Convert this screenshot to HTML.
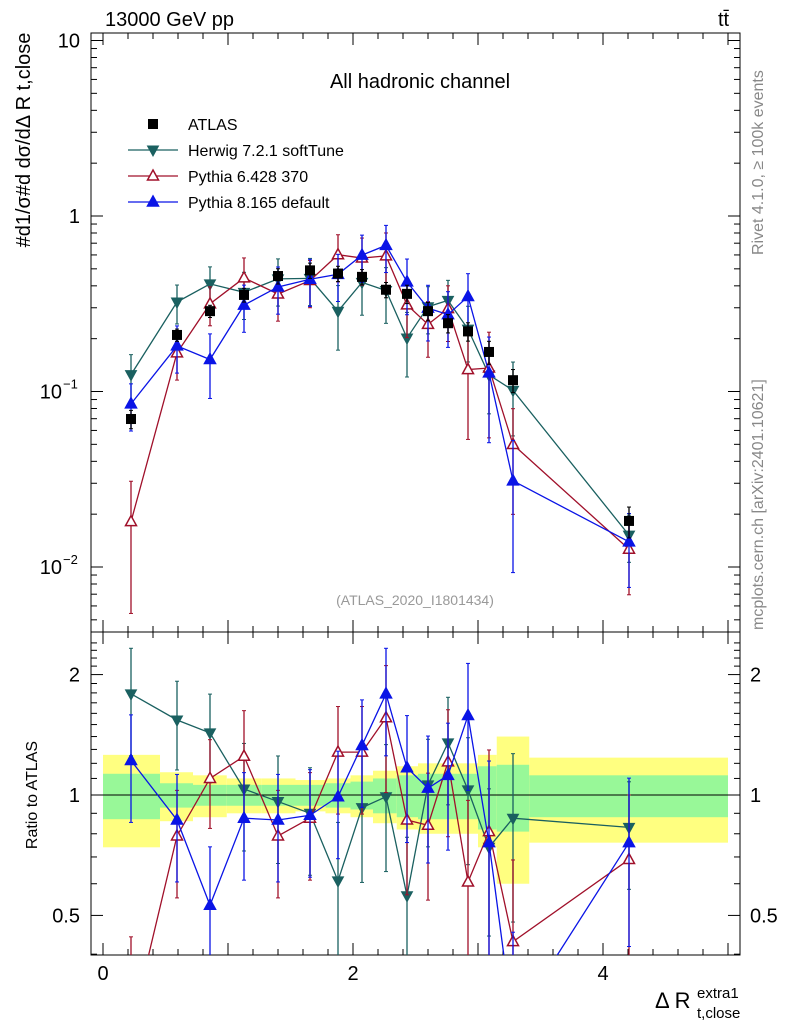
<!DOCTYPE html>
<html><head><meta charset="utf-8"><style>
html,body{margin:0;background:#fff;overflow:hidden;width:786px;height:1024px}
svg{display:block;font-family:"Liberation Sans",sans-serif}
</style></head><body>
<svg id="c" width="786" height="1024" viewBox="0 0 786 1024"></svg>
<script>
const xs=[0.224,0.592,0.856,1.128,1.4,1.656,1.88,2.072,2.264,2.432,2.6,2.76,2.92,3.088,3.28,4.208];
const atlas=[0.0697,0.21,0.287,0.355,0.455,0.49,0.47,0.45,0.38,0.36,0.287,0.245,0.22,0.168,0.116,0.0183];
const atlasErr=[0.12,0.08,0.08,0.09,0.10,0.10,0.1,0.1,0.1,0.12,0.12,0.12,0.12,0.15,0.15,0.2];
const herwigRatio=[1.79,1.54,1.43,1.035,0.963,0.90,0.61,0.93,0.99,0.56,1.06,1.35,1.03,0.74,0.875,0.83];
const herwigErr=[0.3,0.25,0.25,0.3,0.3,0.3,0.4,0.35,0.35,0.4,0.3,0.3,0.35,0.4,0.45,0.3];
const py6Ratio=[0.26,0.79,1.10,1.25,0.79,0.875,1.28,1.28,1.56,0.866,0.84,1.21,0.606,0.81,0.43,0.69];
const py6Err=[0.7,0.3,0.25,0.3,0.3,0.3,0.3,0.3,0.35,0.35,0.35,0.35,0.6,0.6,0.6,0.45];
const py8Ratio=[1.22,0.866,0.53,0.875,0.866,0.89,0.99,1.33,1.79,1.17,1.04,1.12,1.58,0.76,0.267,0.76];
const py8Err=[0.3,0.3,0.4,0.3,0.3,0.3,0.3,0.3,0.3,0.35,0.35,0.35,0.35,0.6,0.7,0.45];
const binEdges=[0,0.456,0.72,0.99,1.27,1.54,1.78,1.98,2.16,2.35,2.52,3.0,3.15,3.41,5.0];
const bandTotal=[0.26,0.14,0.12,0.1,0.1,0.09,0.1,0.12,0.15,0.18,0.2,0.26,0.4,0.24];
const bandStat=[0.13,0.07,0.06,0.06,0.06,0.06,0.07,0.08,0.1,0.12,0.13,0.18,0.19,0.12];
const xTicks=[0,2,4];
const ratioTicks=[0.5,1,2];

const S=document.getElementById('c');const NS='http://www.w3.org/2000/svg';
function el(t,a,p){const e=document.createElementNS(NS,t);for(const k in a)e.setAttribute(k,a[k]);(p||S).appendChild(e);return e;}
const L=91,R=740,T=33,B=632,RB=955;
const X=v=>103+125*v;
const Y=v=>216-175.5*Math.log10(v);
const YR=v=>795-400*Math.log10(v);
const clipM=el('clipPath',{id:'cm'});el('rect',{x:L,y:T,width:R-L,height:B-T},clipM);
const clipR=el('clipPath',{id:'cr'});el('rect',{x:L,y:B,width:R-L,height:RB-B},clipR);
const gb=el('g',{'clip-path':'url(#cr)'});

for(let i=0;i<bandTotal.length;i++){
 const x0=X(binEdges[i]),x1=X(binEdges[i+1]);
 let r=el('rect',{x:x0,y:YR(1+bandTotal[i]),width:x1-x0,height:YR(1-bandTotal[i])-YR(1+bandTotal[i]),fill:'#ffff80'},gb);
 
 r=el('rect',{x:x0,y:YR(1+bandStat[i]),width:x1-x0,height:YR(1-bandStat[i])-YR(1+bandStat[i]),fill:'#98f898'},gb);
 
}
el('line',{x1:L,x2:R,y1:YR(1),y2:YR(1),stroke:'#000'});
el('rect',{x:L,y:T,width:R-L,height:B-T,fill:'none',stroke:'#000'});
el('rect',{x:L,y:B,width:R-L,height:RB-B,fill:'none',stroke:'#000'});
for(let v=0;v<=5.01;v+=0.2){const x=X(v);const maj=Math.abs(v-Math.round(v))<1e-6;const len=maj?12:6;
 for(const [y0,y1] of [[B,B-len],[T,T+len],[RB,RB-len],[B,B+len]]) el('line',{x1:x,x2:x,y1:y0,y2:y1,stroke:'#000'});}
xTicks.forEach(v=>{const t=el('text',{x:X(v),y:980,'font-size':20,'text-anchor':'middle'});t.textContent=v;
 });
for(let d=-3;d<=1;d++)for(let m=1;m<10;m++){const v=m*Math.pow(10,d);const y=Y(v);if(y<T||y>B)continue;const len=m==1?12:6;
 el('line',{x1:L,x2:L+len,y1:y,y2:y,stroke:'#000'});el('line',{x1:R,x2:R-len,y1:y,y2:y,stroke:'#000'});}
[[10,'10'],[1,'1']].forEach(([v,s])=>{const t=el('text',{x:80,y:Y(v)+7,'font-size':20,'text-anchor':'end'});t.textContent=s;
 });
[[0.1,'−1'],[0.01,'−2']].forEach(([v,s])=>{const t=el('text',{x:62,y:Y(v)+7,'font-size':20,'text-anchor':'end'});t.textContent='10';
 
 const e=el('text',{x:63,y:Y(v)-3,'font-size':13});e.textContent=s;});
for(let v=0.4;v<=2.5;v+=0.1){const y=YR(v);const maj=[0.5,1,2].some(q=>Math.abs(q-v)<1e-6);const len=maj?12:6;
 el('line',{x1:L,x2:L+len,y1:y,y2:y,stroke:'#000'});el('line',{x1:R,x2:R-len,y1:y,y2:y,stroke:'#000'});}
ratioTicks.forEach(v=>{let t=el('text',{x:80,y:YR(v)+7,'font-size':20,'text-anchor':'end'});t.textContent=v;
 
 t=el('text',{x:750,y:YR(v)+7,'font-size':20});t.textContent=v;});
function marker(g,type,x,y,col,open){
 if(type=='sq')el('rect',{x:x-5,y:y-5,width:10,height:10,fill:col},g);
 else if(type=='up')el('path',{d:`M${x},${y-6}L${x+5.5},${y+4}L${x-5.5},${y+4}Z`,fill:open?'#fff':col,stroke:col,'stroke-width':1.5},g);
 else el('path',{d:`M${x},${y+6}L${x+5.5},${y-4}L${x-5.5},${y-4}Z`,fill:col,stroke:col},g);
}
function series(name,vals,errs,col,type,open,line,Yf,clip){
 const g=el('g',{'clip-path':clip});
 if(line)el('polyline',{points:xs.map((x,i)=>X(x)+','+Yf(vals[i])).join(' '),fill:'none',stroke:col,'stroke-width':1.3},g);
 xs.forEach((x,i)=>{const v=vals[i],e=errs[i];const lo=Math.max(v*(1-e),1e-4);
  el('line',{x1:X(x),x2:X(x),y1:Yf(v*(1+e)),y2:Yf(lo),stroke:col,'stroke-width':1.3},g);
  el('line',{x1:X(x)-2,x2:X(x)+2,y1:Yf(v*(1+e)),y2:Yf(v*(1+e)),stroke:col},g);
  el('line',{x1:X(x)-2,x2:X(x)+2,y1:Yf(lo),y2:Yf(lo),stroke:col},g);
  marker(g,type,X(x),Yf(v),col,open);});
}
const mul=(r)=>r.map((v,i)=>v*atlas[i]);
series('herwig-series',mul(herwigRatio),herwigErr,'#1a6060','dn',false,true,Y,'url(#cm)');
series('pythia6-series',mul(py6Ratio),py6Err,'#a0102a','up',true,true,Y,'url(#cm)');
series('pythia8-series',mul(py8Ratio),py8Err,'#0a14e6','up',false,true,Y,'url(#cm)');
series('atlas-data',atlas,atlasErr,'#000','sq',false,false,Y,'url(#cm)');
series('herwig-ratio',herwigRatio,herwigErr,'#1a6060','dn',false,true,YR,'url(#cr)');
series('pythia6-ratio',py6Ratio,py6Err,'#a0102a','up',true,true,YR,'url(#cr)');
series('pythia8-ratio',py8Ratio,py8Err,'#0a14e6','up',false,true,YR,'url(#cr)');
const lg=el('g',{});
[['ATLAS','#000','sq',false,false],['Herwig 7.2.1 softTune','#1a6060','dn',false,true],['Pythia 6.428 370','#a0102a','up',true,true],['Pythia 8.165 default','#0a14e6','up',false,true]].forEach((d,i)=>{
 const y=124+26*i;if(d[4])el('line',{x1:128,x2:178,y1:y,y2:y,stroke:d[1],'stroke-width':1.3},lg);
 marker(lg,d[2],153,y,d[1],d[3]);const t=el('text',{x:188,y:y+6,'font-size':16},lg);t.textContent=d[0];});
function txt(s,a,name){const t=el('text',a);t.textContent=s;return t;}
txt('All hadronic channel',{x:420,y:88,'font-size':20,'text-anchor':'middle'},'channel-title');
txt('13000 GeV pp',{x:105,y:26,'font-size':20},'energy-label');
txt('tt̄',{x:718,y:26,'font-size':20},'process-label');
txt('(ATLAS_2020_I1801434)',{x:415,y:605,'font-size':14,fill:'#999','text-anchor':'middle'},'analysis-id');
txt('Rivet 4.1.0, ≥ 100k events',{x:0,y:0,'font-size':16,fill:'#888',transform:'translate(763,255) rotate(-90)'},'rivet-label');
txt('mcplots.cern.ch [arXiv:2401.10621]',{x:0,y:0,'font-size':16,fill:'#888',transform:'translate(763,630) rotate(-90)'},'mcplots-label');
txt('Ratio to ATLAS',{x:0,y:0,'font-size':16,'text-anchor':'middle',transform:'translate(37,795) rotate(-90)'},'ratio-axis-title');
txt('#d1/σ#d dσ/dΔ R t,close',{x:0,y:0,'font-size':20,'text-anchor':'middle',transform:'translate(30,140) rotate(-90)'},'y-axis-title');
txt('Δ R',{x:655,y:1008,'font-size':22},'x-axis-title');
txt('extra1',{x:697,y:998,'font-size':15},'x-axis-sup');
txt('t,close',{x:697,y:1018,'font-size':15},'x-axis-sub');
</script>
</body></html>
